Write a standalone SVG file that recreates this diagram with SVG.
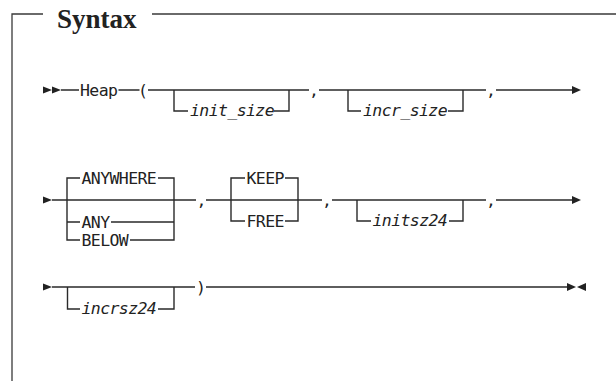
<svg xmlns="http://www.w3.org/2000/svg" width="616" height="381" viewBox="0 0 616 381">
<style>
.ln{fill:none;stroke:#2a2a2a;stroke-width:1.4}
.fr{fill:none;stroke:#3a3a3a;stroke-width:1.3}
.t{font-family:"DejaVu Sans Mono","Liberation Mono",monospace;font-size:16.5px;letter-spacing:-0.6px;fill:#222}
.i{font-style:italic}
.hd{font-family:"Liberation Serif","DejaVu Serif",serif;font-size:27px;font-weight:bold;fill:#222}
.ah{fill:#222}
</style>
<rect width="616" height="381" fill="#fff"/>
<g id="frame">
<path class="fr" d="M12,381 V14 H43 M152,14 H616"/>
<text class="hd" x="57" y="27.5">Syntax</text>
</g>
<g id="connectors">
<!-- row 1 -->
<path class="ln" d="M61,90 H79 M118.5,90 H139.5 M148,90 H309 M319,90 H486 M496,90 H573"/>
<path class="ln" d="M174,90 V111 H188 M274,111 H289 V90"/>
<path class="ln" d="M348,90 V111 H361 M448,111 H463 V90"/>
<!-- row 2 -->
<path class="ln" d="M52,200 H196 M206,200 H322 M332,200 H486 M496,200 H573"/>
<path class="ln" d="M80,178 H67 V240 H80 M67,222 H80 M158,178 H174 V240 H130 M111,222 H174"/>
<path class="ln" d="M245,178 H231 V221 H245 M285,178 H298 V221 H285"/>
<path class="ln" d="M357,200 V221 H371 M449,221 H463 V200"/>
<!-- row 3 -->
<path class="ln" d="M52,287 H195 M206,287 H568"/>
<path class="ln" d="M67.5,287 V309 H80 M158,309 H174 V287"/>
</g>
<g id="arrows">
<polygon class="ah" points="43,86.5 52,90 43,93.5"/>
<polygon class="ah" points="52,86.5 61,90 52,93.5"/>
<polygon class="ah" points="572,86 581,90 572,94"/>
<polygon class="ah" points="43,196.5 52,200 43,203.5"/>
<polygon class="ah" points="572,196 581,200 572,204"/>
<polygon class="ah" points="43,283.5 52,287 43,290.5"/>
<polygon class="ah" points="567,283 576,287 567,291"/>
<polygon class="ah" points="586,283 577,287 586,291"/>
</g>
<g id="n-heap"><text class="t" x="80" y="96">Heap</text></g>
<g id="n-lparen"><text class="t" x="138" y="96">(</text></g>
<g id="n-init_size"><text class="t i" x="190" y="115.5">init_size</text></g>
<g id="n-comma1"><text class="t" x="309" y="96">,</text></g>
<g id="n-incr_size"><text class="t i" x="363" y="115.5">incr_size</text></g>
<g id="n-comma2"><text class="t" x="486" y="96">,</text></g>
<g id="n-anywhere"><text class="t" x="81.5" y="184">ANYWHERE</text></g>
<g id="n-any"><text class="t" x="81.5" y="228">ANY</text></g>
<g id="n-below"><text class="t" x="81.5" y="246">BELOW</text></g>
<g id="n-comma3"><text class="t" x="196.5" y="206">,</text></g>
<g id="n-keep"><text class="t" x="246.5" y="184">KEEP</text></g>
<g id="n-free"><text class="t" x="246.5" y="227">FREE</text></g>
<g id="n-comma4"><text class="t" x="322" y="206">,</text></g>
<g id="n-initsz24"><text class="t i" x="372.5" y="225.5">initsz24</text></g>
<g id="n-comma5"><text class="t" x="486" y="206">,</text></g>
<g id="n-incrsz24"><text class="t i" x="81.5" y="313.5">incrsz24</text></g>
<g id="n-rparen"><text class="t" x="196" y="293">)</text></g>
</svg>
